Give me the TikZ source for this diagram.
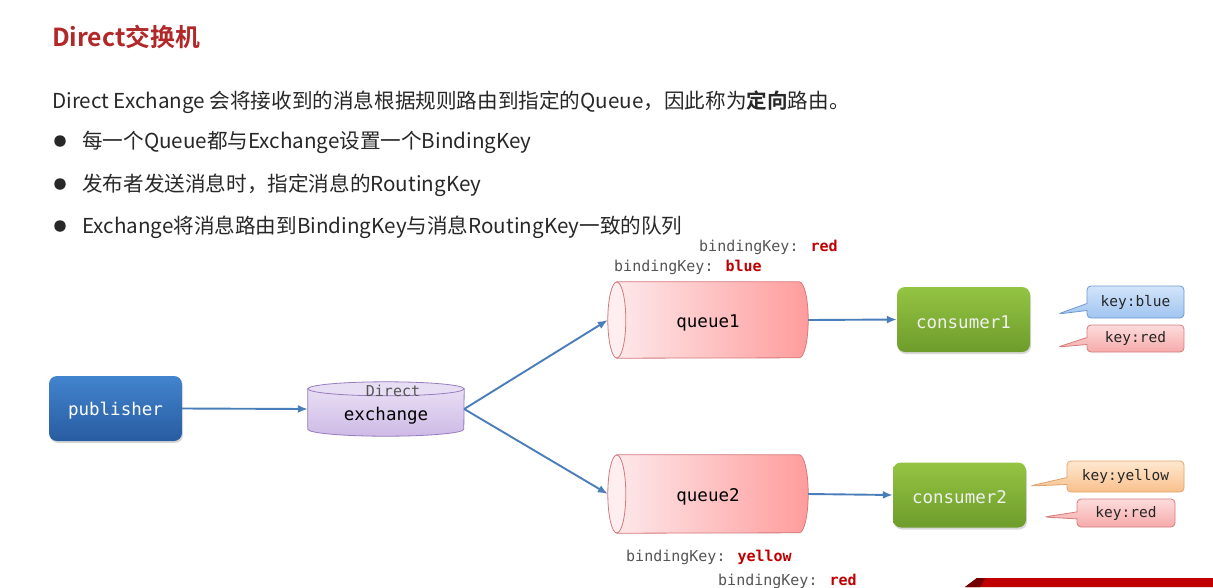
\documentclass[tikz,border=0pt]{standalone}
\usepackage{fontspec}
\newfontfamily\cjk[BoldFont={Noto Sans CJK SC Bold}]{Noto Sans CJK SC}
\newfontfamily\mono{DejaVu Sans Mono}
\usetikzlibrary{arrows.meta,shapes.callouts,shadows,backgrounds}
\definecolor{titlered}{RGB}{178,40,40}
\definecolor{txt}{RGB}{40,40,40}
\definecolor{keygray}{RGB}{85,85,85}
\definecolor{keyred}{RGB}{192,0,0}
\definecolor{arrowblue}{RGB}{74,126,187}
\definecolor{pubtop}{RGB}{66,132,206}
\definecolor{pubbot}{RGB}{40,92,160}
\definecolor{contop}{RGB}{148,196,66}
\definecolor{conbot}{RGB}{110,156,44}
\definecolor{qleft}{RGB}{253,232,234}
\definecolor{qright}{RGB}{255,156,156}
\definecolor{qborder}{RGB}{214,120,124}
\definecolor{qface}{RGB}{254,238,240}
\definecolor{extop}{RGB}{232,222,244}
\definecolor{exbot}{RGB}{206,186,230}
\definecolor{exborder}{RGB}{150,124,190}
\definecolor{cbtop}{RGB}{210,228,250}
\definecolor{cbbot}{RGB}{160,196,240}
\definecolor{cbborder}{RGB}{110,152,212}
\definecolor{crtop}{RGB}{253,220,220}
\definecolor{crbot}{RGB}{246,170,170}
\definecolor{crborder}{RGB}{214,124,124}
\definecolor{cytop}{RGB}{254,232,208}
\definecolor{cybot}{RGB}{249,192,140}
\definecolor{cyborder}{RGB}{226,162,108}
\definecolor{banner}{RGB}{192,0,0}
\newcommand{\lowered}[1]{\raisebox{-2.5pt}[\height][\depth]{#1}}
\begin{document}
\begin{tikzpicture}[x=1pt,y=1pt,
  plain/.style={anchor=base west, inner sep=0pt, text=txt, font=\cjk\fontsize{20.6}{24}\selectfont},
  bulletdot/.style={circle, fill=txt, minimum size=11.5pt, inner sep=0pt},
  keylbl/.style={anchor=base west, inner sep=0pt, text=keygray, font=\mono\fontsize{15}{18}\selectfont},
  box/.style={rounded corners=8pt, inner sep=0pt, text=white, font=\mono\fontsize{17.5}{20}\selectfont,
    drop shadow={opacity=0.3, shadow xshift=1pt, shadow yshift=-2pt}},
  pubbox/.style={box, top color=pubtop, bottom color=pubbot, minimum width=133pt, minimum height=65pt},
  conbox/.style={box, top color=contop, bottom color=conbot, minimum width=133pt, minimum height=65pt, text=white!94!black},
  holder/.style={inner sep=0pt, font=\mono\fontsize{17.5}{20}\selectfont, text=black},
  qbody/.style={left color=qleft, right color=qright},
  arr/.style={draw=arrowblue, line width=1.9pt, -{Latex[length=10pt,width=8pt]}},
  callout/.style={rectangle callout, rounded corners=4pt, inner sep=0pt, line width=0.8pt,
    font=\mono\fontsize{14.5}{17}\selectfont, text=black!85, callout pointer width=7pt},
  cblue/.style={callout, draw=cbborder, top color=cbtop, bottom color=cbbot},
  cred/.style={callout, draw=crborder, top color=crtop, bottom color=crbot},
  cyellow/.style={callout, draw=cyborder, top color=cytop, bottom color=cybot}
]
\useasboundingbox (0,0) rectangle (1213,-587);

% texts
\node[anchor=base west, inner sep=0pt, text=titlered, font=\cjk\bfseries\fontsize{24.8}{28}\selectfont] (title) at (52,-46) {Direct交换机};
\node[plain] (para) at (52,-108) {Direct Exchange 会将接收到的消息根据规则路由到指定的Queue，因此称为\textbf{定向}路由。};
\node[bulletdot] (b1) at (60,-141) {};
\node[plain] (t1) at (82,-148) {每一个Queue都与Exchange设置一个BindingKey};
\node[bulletdot] (b2) at (60,-184) {};
\node[plain] (t2) at (82,-191) {发布者发送消息时，指定消息的RoutingKey};
\node[bulletdot] (b3) at (60,-226) {};
\node[plain] (t3) at (82,-233) {Exchange将消息路由到BindingKey与消息RoutingKey一致的队列};

% binding keys
\node[keylbl] (bk1) at (699,-251) {bindingKey: \textcolor{keyred}{\bfseries red}};
\node[keylbl] (bk2) at (614,-271) {bindingKey: \textcolor{keyred}{\bfseries blue}};
\node[keylbl] (bk3) at (626,-561) {bindingKey: \textcolor{keyred}{\bfseries yellow}};
\node[keylbl] (bk4) at (718,-585) {bindingKey: \textcolor{keyred}{\bfseries red}};

% main nodes
\node[pubbox] (pub) at (115.5,-408.5) {\lowered{publisher}};
\node[conbox] (c1) at (963.5,-319.5) {\lowered{consumer1}};
\node[conbox] (c2) at (959.5,-495) {\lowered{consumer2}};
\node[holder, minimum width=200pt, minimum height=76pt] (q1) at (708,-320) {\lowered{queue1}};
\node[holder, minimum width=200pt, minimum height=78pt] (q2) at (708,-494) {\lowered{queue2}};
\node[holder, minimum width=156pt, minimum height=54pt] (ex) at (386,-409) {};
\node[inner sep=0pt, text=keygray, font=\mono\fontsize{15}{18}\selectfont] (exd) at (393,-391) {Direct};
\node[inner sep=0pt, text=black, font=\mono\fontsize{17.5}{20}\selectfont] (exn) at (386,-416) {exchange};

% shapes behind
\begin{scope}[on background layer]
  \fill[white] (0,0) rectangle (1213,-587);
  % queue1
  \path[qbody, draw=qborder, line width=0.8pt] ([xshift=9pt]q1.north west) -- ([xshift=-9pt]q1.north east)
     arc[start angle=90,end angle=-90,x radius=9pt,y radius=38pt] -- ([xshift=9pt]q1.south west) -- cycle;
  \filldraw[fill=qface, draw=qborder, line width=0.8pt] ([xshift=9pt]q1.west) ellipse[x radius=9pt,y radius=38pt];
  % queue2
  \path[qbody, draw=qborder, line width=0.8pt] ([xshift=9pt]q2.north west) -- ([xshift=-9pt]q2.north east)
     arc[start angle=90,end angle=-90,x radius=9pt,y radius=39pt] -- ([xshift=9pt]q2.south west) -- cycle;
  \filldraw[fill=qface, draw=qborder, line width=0.8pt] ([xshift=9pt]q2.west) ellipse[x radius=9pt,y radius=39pt];
  % exchange
  \path[top color=extop, bottom color=exbot, draw=exborder, line width=0.8pt]
     ([yshift=-7pt]ex.north west) -- ([yshift=7pt]ex.south west)
     arc[start angle=180,end angle=360,x radius=78pt,y radius=7pt] -- ([yshift=-7pt]ex.north east) -- cycle;
  \filldraw[fill=extop, draw=exborder, line width=0.8pt] ([yshift=-7pt]ex.north) ellipse[x radius=78pt,y radius=7pt];
  % banner
  \fill[banner] (965,-587) -- (977,-578) -- (1213,-578) -- (1213,-587) -- cycle;
  \fill[banner!60!black] (965,-587) -- (977,-578) -- (985,-578) -- (980,-587) -- cycle;
\end{scope}

% connectors
\draw[arr] (pub.east) -- (ex.west);
\draw[arr] (ex.east) -- (q1.west);
\draw[arr] (ex.east) -- (q2.west);
\draw[arr] (q1.east) -- (c1.west);
\draw[arr] (q2.east) -- (c2.west);

% callouts
\node[cblue, minimum width=97pt, minimum height=32pt, callout absolute pointer={(1058,-314)}] (k1) at (1135.5,-302) {key:blue};
\node[cred, minimum width=97pt, minimum height=27pt, callout absolute pointer={(1058,-347)}] (k2) at (1135.5,-338.5) {key:red};
\node[cyellow, minimum width=117pt, minimum height=31pt, callout absolute pointer={(1030,-486)}] (k3) at (1125.5,-476.5) {key:yellow};
\node[cred, minimum width=98pt, minimum height=28pt, callout absolute pointer={(1044,-517)}] (k4) at (1126,-513) {key:red};
\end{tikzpicture}
\end{document}
